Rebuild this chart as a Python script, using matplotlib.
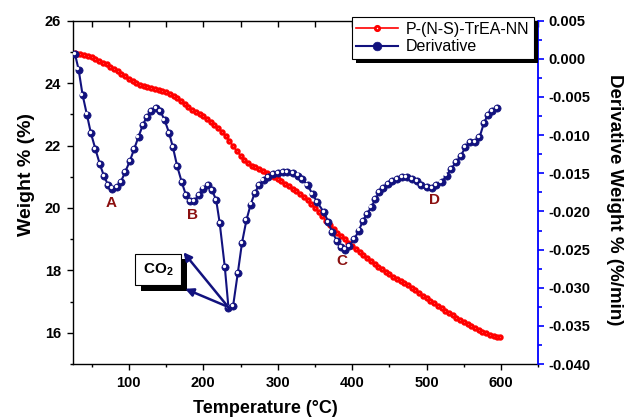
import matplotlib
matplotlib.use("Agg")
import matplotlib.pyplot as plt
import matplotlib.transforms as mtransforms
from matplotlib import patheffects
from matplotlib.ticker import MultipleLocator

plt.rcParams["font.family"] = ["Liberation Sans", "DejaVu Sans"]
plt.rcParams["mathtext.fontset"] = "custom"
plt.rcParams["mathtext.rm"] = "Liberation Sans"
plt.rcParams["mathtext.bf"] = "Liberation Sans:bold"

# TGA curve (left axis)
tga_temp = [27, 30, 35, 40, 45, 50, 55, 60, 65, 70, 75, 80, 85, 90, 95, 100,
            105, 110, 115, 120, 125, 130, 135, 140, 145, 150, 155, 160, 165,
            170, 175, 180, 185, 190, 195, 200, 205, 210, 215, 220, 225, 230,
            235, 240, 245, 250, 255, 260, 265, 270, 275, 280, 285, 290, 295,
            300, 305, 310, 315, 320, 325, 330, 335, 340, 345, 350, 355, 360,
            365, 370, 375, 380, 385, 390, 395, 400, 405, 410, 415, 420, 425,
            430, 435, 440, 445, 450, 455, 460, 465, 470, 475, 480, 485, 490,
            495, 500, 505, 510, 515, 520, 525, 530, 535, 540, 545, 550, 555,
            560, 565, 570, 575, 580, 585, 590, 595, 598]
tga_weight = [24.95, 24.94, 24.93, 24.90, 24.87, 24.83, 24.78, 24.72, 24.66,
              24.60, 24.53, 24.46, 24.38, 24.30, 24.22, 24.14, 24.07, 24.01,
              23.95, 23.90, 23.86, 23.83, 23.80, 23.78, 23.75, 23.71, 23.66,
              23.60, 23.52, 23.42, 23.32, 23.23, 23.15, 23.08, 23.02, 22.94,
              22.86, 22.77, 22.67, 22.56, 22.45, 22.31, 22.15, 21.98, 21.82,
              21.68, 21.55, 21.45, 21.36, 21.30, 21.24, 21.19, 21.13, 21.06,
              20.99, 20.92, 20.85, 20.78, 20.70, 20.62, 20.54, 20.45, 20.36,
              20.26, 20.14, 20.01, 19.88, 19.73, 19.58, 19.45, 19.33, 19.21,
              19.10, 18.99, 18.88, 18.78, 18.68, 18.58, 18.48, 18.39, 18.30,
              18.21, 18.12, 18.03, 17.94, 17.87, 17.80, 17.73, 17.66, 17.59,
              17.52, 17.44, 17.36, 17.28, 17.19, 17.11, 17.02, 16.94, 16.86,
              16.78, 16.71, 16.63, 16.56, 16.48, 16.41, 16.34, 16.27, 16.21,
              16.15, 16.09, 16.03, 15.98, 15.93, 15.90, 15.87, 15.85]

# Derivative curve (right axis)
dtg_temp = [27.7, 32.5, 37.8, 43.6, 48.9, 55, 61, 66.7, 72, 77.8, 83.6, 89.3,
            95.2, 101.3, 107.2, 113, 118.7, 124, 130, 136, 142.4, 148, 154,
            159.2, 165, 171.2, 176.5, 182, 187.6, 193.8, 200, 205.8, 211.6,
            217.3, 222, 228.9, 233.8, 240, 246.3, 252, 258, 263.6, 269, 274.7,
            281, 287, 293.3, 300, 306.7, 313, 320, 326.7, 333, 340, 346.7, 353,
            362, 368, 373, 380, 385, 391, 396, 403, 409, 414, 420, 426, 431,
            436.5, 442, 448, 454, 460, 466.7, 473, 480, 486.7, 493, 500, 506.7,
            513, 520, 526.7, 533, 540, 546, 552, 558, 564.5, 571, 577, 582, 588,
            595]
dtg_value = [0.0006, -0.0014, -0.0047, -0.0073, -0.0097, -0.0118, -0.0138,
             -0.0154, -0.0165, -0.0170, -0.0168, -0.0161, -0.0148, -0.0134,
             -0.0118, -0.0102, -0.0087, -0.0076, -0.0068, -0.0064, -0.0069,
             -0.0080, -0.0097, -0.0116, -0.0141, -0.0162, -0.0178, -0.0186,
             -0.0186, -0.0179, -0.0170, -0.0166, -0.0172, -0.0185, -0.0215,
             -0.0273, -0.0326, -0.0324, -0.0281, -0.0241, -0.0211, -0.0191,
             -0.0176, -0.0166, -0.0159, -0.0155, -0.0151, -0.0150, -0.0148,
             -0.0148, -0.0150, -0.0153, -0.0157, -0.0166, -0.0177, -0.0188,
             -0.0201, -0.0214, -0.0227, -0.0239, -0.0247, -0.0250, -0.0245,
             -0.0236, -0.0225, -0.0213, -0.0203, -0.0194, -0.0184, -0.0175,
             -0.0169, -0.0164, -0.0160, -0.0157, -0.0155, -0.0155, -0.0157,
             -0.0160, -0.0165, -0.0168, -0.0169, -0.0166, -0.0162, -0.0153,
             -0.0144, -0.0135, -0.0127, -0.0116, -0.0109, -0.0109, -0.0103,
             -0.0084, -0.0074, -0.0068, -0.0064]

series_labels = ["P-(N-S)-TrEA-NN", "Derivative"]

# peak labels, placed in left-axis units
peak_names = ["A", "B", "C", "D"]
peak_x = [75.6, 185.8, 386.7, 511]
peak_y = [20.15, 19.76, 18.3, 20.24]

NAVY = "#12127e"
DARKRED = "#8b1010"

fig = plt.figure(figsize=(6.29, 4.2), dpi=100)
ax = fig.add_axes([0.1161, 0.1333, 0.7397, 0.8174])
ax2 = ax.twinx()

ln1, = ax.plot(tga_temp, tga_weight, color="red", lw=1.2, marker="o", ms=2.6,
               mfc="white", mec="red", mew=2.0)
ln2, = ax2.plot(dtg_temp, dtg_value, color=NAVY, lw=1.5, marker="o", ms=5.2,
                mfc=NAVY, mec=NAVY, mew=0.5)
# small white highlight on the blue spheres
shift = mtransforms.ScaledTranslation(-0.8 / 72, 0.8 / 72, fig.dpi_scale_trans)
ax2.plot(dtg_temp, dtg_value, ls="none", marker="o", ms=1.4, color="white",
         transform=ax2.transData + shift)

ax.set_xlim(25, 650)
ax.set_ylim(15, 26)
ax2.set_ylim(-0.040, 0.005)

ax.xaxis.set_major_locator(MultipleLocator(100))
ax.xaxis.set_minor_locator(MultipleLocator(50))
ax.yaxis.set_major_locator(MultipleLocator(2))
ax.yaxis.set_minor_locator(MultipleLocator(1))
ax2.yaxis.set_major_locator(MultipleLocator(0.005))
ax2.yaxis.set_minor_locator(MultipleLocator(0.0025))
ax2.yaxis.set_major_formatter(plt.FormatStrFormatter("%.3f"))

ax.tick_params(axis="both", which="major", direction="out", length=4.5,
               width=1, labelsize=10.5, pad=4)
ax.tick_params(axis="both", which="minor", direction="out", length=2.5, width=1)
ax.tick_params(axis="x", top=False)
ax.tick_params(axis="y", right=False)

ax2.tick_params(axis="y", which="major", direction="out", length=4.5,
                width=1.2, color="blue", labelcolor="black", labelsize=10.5, pad=3)
ax2.tick_params(axis="y", which="minor", direction="out", length=3,
                width=1.2, color="blue")
ax2.xaxis.set_visible(True)
ax2.tick_params(axis="x", which="both", bottom=False, top=True,
                labelbottom=False, labeltop=False, direction="in", width=1)
ax2.tick_params(axis="x", which="major", length=4.5)
ax2.tick_params(axis="x", which="minor", length=4)

for lbl in ax.get_xticklabels() + ax.get_yticklabels() + ax2.get_yticklabels():
    lbl.set_fontweight("bold")

for side in ["left", "bottom", "top"]:
    ax.spines[side].set_linewidth(1)
    ax2.spines[side].set_visible(False)
ax.spines["right"].set_visible(False)
ax2.spines["right"].set_color("blue")
ax2.spines["right"].set_linewidth(1.3)

ax.set_xlabel("Temperature (°C)", fontsize=13, fontweight="bold")
ax.xaxis.set_label_coords(0.413, -0.105)
ax.set_ylabel("Weight % (%)", fontsize=14, fontweight="bold")
ax.yaxis.set_label_coords(-0.082, 0.553)
ax2.set_ylabel("Derivative Weight % (%/min)", fontsize=13.5, fontweight="bold",
               rotation=270, va="bottom", ha="center", rotation_mode="anchor")
ax2.yaxis.set_label_coords(1.146, 0.478)

for name, px, py in zip(peak_names, peak_x, peak_y):
    ax2.text(px, py, name, transform=ax.transData, color=DARKRED, fontsize=11,
             fontweight="bold", ha="center", va="center")

# CO2 callout
co2 = ax2.text(139.6, 18.03, r"$\mathbf{CO_2}$", transform=ax.transData,
               ha="center", va="center", fontsize=11,
               bbox=dict(boxstyle="square,pad=0.5", fc="white", ec="black", lw=0.8))
co2.get_bbox_patch().set_path_effects(
    [patheffects.withSimplePatchShadow(offset=(4, -4), shadow_rgbFace="black", alpha=1.0)])
for tx, ty in [(173.3, 18.58), (175.6, 17.41)]:
    ax2.annotate("", xy=(tx, ty), xytext=(233.3, 16.83), xycoords=ax.transData,
                 textcoords=ax.transData,
                 arrowprops=dict(arrowstyle="-|>", color=NAVY, lw=1.8,
                                 mutation_scale=12, shrinkA=0, shrinkB=0))

leg = ax2.legend([ln1, ln2], series_labels, loc="upper right",
                 bbox_to_anchor=(0.9914, 1.0108), borderaxespad=0, fancybox=False,
                 edgecolor="black", framealpha=1,
                 prop={"size": 11.5, "weight": "normal"}, handlelength=2.6,
                 handletextpad=0.5, labelspacing=0.15, borderpad=0.3, markerscale=1.2)
leg.get_frame().set_linewidth(0.8)
leg.get_frame().set_path_effects(
    [patheffects.withSimplePatchShadow(offset=(3, -3), shadow_rgbFace="black", alpha=1.0)])

fig.savefig("out.png", dpi=100)
